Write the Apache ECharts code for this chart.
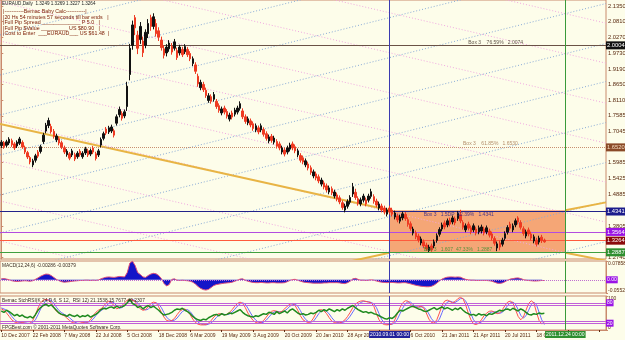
<!DOCTYPE html>
<html><head><meta charset="utf-8">
<script src="https://cdn.jsdelivr.net/npm/echarts@6/dist/echarts.min.js"></script>
<style>html,body{margin:0;padding:0;background:#fdfdea}#c{width:625px;height:340px}</style>
</head><body><div id="c"></div><script>
// ---------- DATA ----------
const dateLabels = ['10 Dec 2007','22 Feb 2008','7 May 2008','22 Jul 2008','5 Oct 2008','18 Dec 2008','6 Mar 2009','19 May 2009','3 Aug 2009','20 Oct 2009','20 Jan 2010','28 Apr 2010','','6 Oct 2010','21 Jan 2011','21 Apr 2011','20 Jul 2011','18 Oct 2011'];
const priceTicks = [2.1350,2.0810,2.0270,1.9730,1.9190,1.8650,1.8110,1.7585,1.7045,1.5985,1.5425,1.4885,1.3805,1.2740];
const macdTicks = [-0.05521, 0.07858];
const stochTicks = [0, 100];
// candles: [open, close, low, high]
const candles = [
[1.656,1.668,1.648,1.675],[1.666,1.652,1.645,1.672],[1.657,1.669,1.650,1.676],[1.665,1.678,1.658,1.685],[1.673,1.659,1.652,1.680],[1.662,1.648,1.641,1.668],[1.655,1.668,1.648,1.674],[1.664,1.679,1.658,1.686],[1.667,1.651,1.645,1.674],[1.650,1.634,1.627,1.656],
[1.632,1.617,1.610,1.638],[1.615,1.600,1.592,1.621],[1.590,1.604,1.582,1.611],[1.606,1.621,1.598,1.628],[1.634,1.620,1.613,1.641],[1.636,1.652,1.629,1.659],[1.670,1.692,1.662,1.700],[1.706,1.726,1.698,1.734],[1.725,1.742,1.716,1.752],[1.722,1.704,1.697,1.731],
[1.705,1.688,1.680,1.713],[1.676,1.689,1.668,1.697],[1.680,1.665,1.657,1.687],[1.666,1.651,1.644,1.673],[1.649,1.634,1.627,1.656],[1.625,1.637,1.618,1.644],[1.628,1.613,1.606,1.634],[1.624,1.638,1.617,1.645],[1.625,1.610,1.603,1.632],[1.618,1.630,1.611,1.637],
[1.637,1.625,1.618,1.644],[1.618,1.630,1.611,1.637],[1.631,1.645,1.624,1.652],[1.638,1.624,1.617,1.645],[1.627,1.639,1.620,1.646],[1.648,1.634,1.627,1.655],[1.628,1.612,1.605,1.635],[1.624,1.638,1.617,1.645],[1.658,1.677,1.650,1.684],[1.681,1.697,1.674,1.704],
[1.713,1.699,1.692,1.720],[1.703,1.717,1.696,1.724],[1.706,1.720,1.699,1.728],[1.707,1.692,1.684,1.714],[1.733,1.755,1.725,1.763],[1.762,1.780,1.753,1.790],[1.766,1.750,1.742,1.774],[1.758,1.772,1.750,1.780],[1.790,1.860,1.775,1.875],[1.900,1.990,1.880,2.005],
[2.000,2.070,1.985,2.085],[2.095,2.060,2.035,2.104],[2.035,1.990,1.970,2.050],[2.020,2.065,2.005,2.080],[2.015,1.975,1.960,2.030],[2.000,2.045,1.990,2.055],[2.040,2.075,2.025,2.090],[2.095,2.065,2.050,2.105],[2.065,2.098,2.055,2.110],[2.075,2.040,2.030,2.090],
[2.050,2.028,2.015,2.062],[2.018,1.992,1.982,2.030],[1.988,1.966,1.955,2.000],[1.974,1.994,1.962,2.004],[1.988,2.008,1.978,2.018],[1.997,1.977,1.968,2.008],[1.990,2.012,1.982,2.022],[1.982,1.958,1.950,1.992],[1.974,1.994,1.965,2.002],[1.986,1.968,1.960,1.995],
[1.978,1.996,1.970,2.004],[1.986,1.968,1.960,1.994],[1.972,1.954,1.946,1.980],[1.938,1.954,1.929,1.962],[1.933,1.911,1.902,1.942],[1.894,1.868,1.858,1.903],[1.855,1.873,1.846,1.882],[1.866,1.848,1.840,1.875],[1.846,1.828,1.820,1.855],[1.811,1.827,1.803,1.836],
[1.824,1.808,1.800,1.832],[1.815,1.831,1.807,1.840],[1.808,1.790,1.782,1.816],[1.793,1.777,1.769,1.801],[1.768,1.782,1.760,1.790],[1.785,1.771,1.763,1.793],[1.773,1.757,1.749,1.781],[1.747,1.761,1.739,1.769],[1.768,1.754,1.746,1.776],[1.764,1.778,1.756,1.786],
[1.771,1.785,1.763,1.793],[1.784,1.800,1.776,1.808],[1.775,1.755,1.747,1.784],[1.755,1.739,1.731,1.763],[1.734,1.748,1.726,1.756],[1.741,1.727,1.719,1.749],[1.731,1.715,1.707,1.739],[1.710,1.724,1.702,1.732],[1.717,1.703,1.695,1.725],[1.710,1.724,1.702,1.732],
[1.711,1.695,1.687,1.719],[1.697,1.681,1.673,1.705],[1.672,1.686,1.664,1.694],[1.688,1.674,1.666,1.696],[1.668,1.682,1.660,1.690],[1.670,1.654,1.646,1.678],[1.662,1.648,1.640,1.670],[1.634,1.648,1.626,1.656],[1.641,1.627,1.619,1.649],[1.634,1.648,1.626,1.656],
[1.644,1.658,1.636,1.666],[1.662,1.648,1.640,1.670],[1.652,1.638,1.630,1.660],[1.624,1.638,1.616,1.646],[1.622,1.606,1.598,1.630],[1.614,1.600,1.592,1.622],[1.590,1.604,1.582,1.612],[1.593,1.579,1.571,1.601],[1.580,1.564,1.556,1.588],[1.552,1.566,1.544,1.574],
[1.559,1.545,1.537,1.567],[1.549,1.535,1.527,1.557],[1.524,1.538,1.516,1.546],[1.528,1.514,1.506,1.536],[1.518,1.504,1.496,1.526],[1.497,1.511,1.489,1.519],[1.508,1.494,1.486,1.516],[1.483,1.497,1.475,1.505],[1.487,1.473,1.465,1.495],[1.477,1.463,1.455,1.485],
[1.460,1.444,1.436,1.468],[1.435,1.449,1.427,1.457],[1.448,1.464,1.440,1.472],[1.462,1.478,1.454,1.486],[1.490,1.515,1.480,1.528],[1.496,1.478,1.470,1.508],[1.474,1.458,1.450,1.482],[1.456,1.470,1.448,1.478],[1.469,1.483,1.461,1.491],[1.470,1.456,1.448,1.478],
[1.469,1.483,1.461,1.491],[1.482,1.498,1.474,1.508],[1.481,1.465,1.457,1.489],[1.466,1.452,1.444,1.474],[1.442,1.456,1.434,1.464],[1.449,1.435,1.427,1.457],[1.442,1.428,1.420,1.450],[1.421,1.435,1.413,1.443],[1.442,1.428,1.420,1.450],[1.435,1.421,1.413,1.443],
[1.411,1.425,1.403,1.433],[1.415,1.401,1.393,1.423],[1.397,1.411,1.389,1.419],[1.408,1.422,1.400,1.430],[1.420,1.406,1.398,1.428],[1.402,1.386,1.378,1.410],[1.388,1.372,1.364,1.396],[1.356,1.370,1.348,1.378],[1.357,1.343,1.335,1.365],[1.346,1.332,1.324,1.354],
[1.322,1.336,1.314,1.344],[1.326,1.312,1.304,1.334],[1.315,1.301,1.295,1.323],[1.296,1.308,1.291,1.316],[1.312,1.298,1.292,1.320],[1.312,1.326,1.304,1.334],[1.331,1.347,1.323,1.355],[1.352,1.368,1.344,1.376],[1.370,1.384,1.362,1.392],[1.391,1.377,1.369,1.399],
[1.384,1.398,1.376,1.406],[1.401,1.387,1.379,1.409],[1.394,1.408,1.386,1.416],[1.405,1.391,1.383,1.413],[1.406,1.424,1.398,1.432],[1.418,1.398,1.390,1.436],[1.392,1.376,1.368,1.400],[1.367,1.381,1.359,1.389],[1.387,1.373,1.365,1.395],[1.374,1.360,1.352,1.382],
[1.367,1.381,1.359,1.389],[1.370,1.356,1.348,1.378],[1.360,1.374,1.352,1.382],[1.363,1.377,1.355,1.385],[1.370,1.356,1.348,1.378],[1.360,1.374,1.352,1.382],[1.363,1.349,1.341,1.371],[1.353,1.339,1.331,1.361],[1.337,1.321,1.313,1.345],[1.305,1.319,1.294,1.327],
[1.322,1.308,1.297,1.330],[1.318,1.332,1.310,1.340],[1.338,1.354,1.330,1.362],[1.359,1.375,1.351,1.383],[1.387,1.373,1.365,1.395],[1.367,1.381,1.359,1.389],[1.384,1.398,1.376,1.406],[1.408,1.394,1.386,1.414],[1.392,1.376,1.368,1.400],[1.371,1.355,1.347,1.379],
[1.346,1.360,1.338,1.368],[1.367,1.353,1.345,1.375],[1.353,1.339,1.331,1.361],[1.329,1.343,1.321,1.351],[1.332,1.318,1.310,1.340],[1.325,1.339,1.317,1.347],[1.342,1.330,1.322,1.350],[1.332,1.326,1.323,1.337]
];
const macd = [
0.004,0.005,0.003,0.000,-0.004,-0.006,-0.007,-0.006,-0.005,-0.004,
-0.005,-0.006,-0.004,0.002,0.008,0.015,0.020,0.024,0.023,0.018,
0.010,0.002,-0.004,-0.008,-0.010,-0.009,-0.008,-0.006,-0.005,-0.004,
-0.003,-0.003,-0.002,-0.002,-0.003,-0.002,-0.003,-0.001,0.004,0.008,
0.011,0.012,0.011,0.010,0.012,0.014,0.013,0.012,0.030,0.070,
0.078,0.060,0.030,0.022,0.012,0.010,0.018,0.024,0.027,0.025,
0.018,0.005,-0.015,-0.026,-0.020,0.002,0.004,-0.002,-0.003,-0.002,
-0.003,-0.004,-0.006,-0.010,-0.018,-0.028,-0.036,-0.041,-0.043,-0.040,
-0.032,-0.024,-0.020,-0.018,-0.016,-0.014,-0.013,-0.012,-0.010,-0.006,
-0.002,0.003,0.004,-0.002,-0.006,-0.009,-0.011,-0.012,-0.012,-0.011,
-0.012,-0.013,-0.013,-0.012,-0.012,-0.013,-0.013,-0.013,-0.012,-0.008,
-0.003,0.001,0.002,-0.002,-0.006,-0.009,-0.011,-0.012,-0.013,-0.014,
-0.014,-0.014,-0.014,-0.013,-0.013,-0.012,-0.012,-0.012,-0.012,-0.013,
-0.015,-0.016,-0.012,-0.006,0.004,0.006,0.002,-0.002,-0.002,-0.003,
-0.002,0.000,-0.002,-0.005,-0.008,-0.010,-0.011,-0.012,-0.011,-0.011,
-0.012,-0.013,-0.013,-0.012,-0.012,-0.014,-0.017,-0.020,-0.023,-0.025,
-0.027,-0.028,-0.029,-0.029,-0.027,-0.022,-0.014,-0.005,0.003,0.008,
0.011,0.012,0.012,0.011,0.012,0.011,0.006,0.002,0.000,-0.002,
-0.002,-0.003,-0.003,-0.003,-0.003,-0.003,-0.004,-0.006,-0.010,-0.014,
-0.015,-0.013,-0.008,-0.002,0.003,0.005,0.007,0.008,0.005,0.001,
-0.002,-0.003,-0.004,-0.005,-0.005,-0.004,-0.003,-0.003];
const stochK = [
62,58,50,40,30,24,21,20,22,20, 19,20,28,45,65,80,88,90,88,80, 66,55,50,45,42,35,28,22,20,19,
20,22,24,23,30,42,52,58,62,70, 80,85,82,70,62,66,72,80,88,90, 88,85,70,62,58,60,68,78,82,80,
68,52,38,28,26,28,34,45,55,60, 62,55,45,32,22,17,15,15,16,20, 28,38,45,48,47,45,46,52,60,70,
78,82,78,66,50,38,28,22,20,22, 28,38,48,55,57,55,52,55,62,70, 76,78,72,58,42,30,25,22,24,35,
50,58,60,56,48,36,26,22,20,21, 24,30,40,52,66,76,82,85,86,84, 82,80,70,48,30,20,16,15,16,18,
30,48,66,80,86,85,76,68,66,68, 70,65,50,32,22,20,30,50,72,85, 88,84,80,84,92,96,92,74,50,30,
18,16,20,30,42,50,55,56,52,48, 50,60,72,82,85,80,60,40,30,38, 58,78,86,80,52,28,18,21];
const stochD = [
65,62,58,50,40,31,25,22,21,21, 20,19,22,30,45,62,77,86,89,87, 79,67,57,51,46,42,36,29,23,20,
19,20,22,23,25,32,42,51,57,62, 70,79,83,80,71,64,66,72,80,87, 89,87,80,70,62,59,61,69,77,80,
76,66,51,38,30,27,29,35,45,54, 59,60,54,44,32,23,18,16,15,17, 21,28,37,44,47,46,45,47,53,61,
70,77,80,76,64,50,38,29,23,21, 23,29,38,47,53,55,54,53,56,62, 70,75,76,70,57,42,31,25,23,26,
36,48,56,58,55,47,36,27,22,21, 22,25,31,41,53,65,75,81,84,84, 83,81,77,66,48,31,21,17,16,17,
21,32,48,64,77,83,82,75,69,67, 68,67,60,47,33,24,23,32,51,70, 82,85,82,81,86,92,93,85,70,48,
30,21,19,23,31,42,49,53,54,51, 49,52,61,72,80,82,76,60,43,35, 42,58,75,82,74,52,30,16];
const stochRsi = [
56,52,58,54,48,42,46,40,44,38, 36,40,35,45,58,66,72,76,70,74, 66,58,50,46,44,40,46,42,40,44,
38,42,40,44,38,42,46,52,60,64, 62,66,68,64,70,66,68,72,80,90, 78,74,66,70,62,68,72,66,70,64,
58,50,44,46,48,52,58,62,60,64, 58,54,48,40,34,30,28,32,30,36, 40,44,46,42,48,44,46,50,48,52,
56,60,52,46,42,40,38,42,40,44, 48,46,52,50,46,54,48,52,56,50, 58,62,56,50,46,48,44,46,50,48,
52,58,54,60,56,62,58,54,60,56, 62,58,64,68,72,66,60,56,52,54, 50,52,48,46,42,38,34,32,36,34,
40,50,58,56,60,64,68,70,66,62, 60,56,54,58,62,66,60,64,68,62, 66,62,58,64,60,66,58,52,48,44,
46,42,48,44,46,42,48,46,50,54, 58,56,60,62,58,64,60,56,62,58, 52,46,44,48,46,50,48,49];
const levelPrices = [2.0004, 1.6520, 1.4341, 1.3564, 1.3264, 1.2887];
const boxPrices = [1.4341, 1.2887];
const vLineSlots = [148, 215];
const vLineTexts = ['2010.09.01 00:00', '2011.12.24 00:00'];
const pinkStarts = [2.5603, 2.4231, 2.2859, 2.1487, 2.0150, 1.8778, 1.7406, 1.6034, 1.4662, 1.3290];
const pinkSlope = -0.002096;
const blueStarts = [2.1728, 2.0356, 1.8984, 1.7612, 1.6240, 1.4868, 1.3564, 1.2158, 1.0786, 0.9448, 0.8076];
const blueSlope = 0.002249;
const goldFrom = [[-0.5, 1.730], [148, 1.2887], [215, 1.4341], [215, 1.2887]];
const goldTo   = [[148, 1.4341], [110, 1.2135], [230.5, 1.4613], [230.5, 1.2615]];
const boxNotes = [
  {slot: 178, price: 2.0004, text: 'Box 3    76.59%   2.0074'},
  {slot: 176, price: 1.6520, text: 'Box 3    61.85%   1.6530'},
  {slot: 161, price: 1.4341, text: 'Box 3   1.5DP  52.39%   1.4341'},
  {slot: 161, price: 1.2887, text: 'Box 3   1.607  47.33%   1.2887'}
];
const macdLevel = 0;
const stochLevels = [80, 72, 26, 20];
const SLOTS = 231;

// ---------- STYLES ----------
const FONT = "'Liberation Sans',Arial,sans-serif";
const BG = '#fdfdea', BORDER = '#c98a6c', TXT = '#5a2a10';
const levelLine = [['#6a5246','solid'],['#c89070','dotted'],['#22228a','solid'],['#b24ce0','solid'],['#ff5a3c','solid'],['#3f9f3f','solid']];
const levelTag = [['#111111','#ffffff'],['#8a4a28','#f5dcc0'],['#1c1c8c','#ffffff'],['#9a14e6','#ffffff'],['#8b0a0a','#ffffff'],['#2f8f2f','#ffffff']];
const noteColor = ['#3a2a20','#a0704a','#1c1c8c','#2f8f2f'];
const vColors = ['#3b3bb0', '#3a9a3a'];
const vTagBg = ['#23239a', '#2f8f2f'];

const cats = Array.from({length: SLOTS}, (_, i) => String(i));
const chart = echarts.init(document.getElementById('c'), null, {renderer: 'canvas', devicePixelRatio: 1});

const gridBase = {left: 0, right: 19, show: true, borderColor: BORDER, borderWidth: 1, backgroundColor: 'transparent', containLabel: false, outerBoundsMode: 'none'};
const hiddenCat = (g) => ({type: 'category', gridIndex: g, data: cats, boundaryGap: true, axisLine: {show: false}, axisTick: {show: false}, axisLabel: {show: false}, splitLine: {show: false}});
const yAx = (g, min, max, ticks, fmt, fs, edgeAlign) => ({
  type: 'value', gridIndex: g, position: 'right', min, max, scale: true,
  axisLine: {show: true, lineStyle: {color: BORDER}},
  axisTick: {show: true, length: 2, inside: false, customValues: ticks, lineStyle: {color: BORDER}},
  axisLabel: Object.assign({show: true, customValues: ticks, formatter: fmt, fontSize: fs, fontFamily: FONT, color: TXT, margin: 2},
    edgeAlign ? {verticalAlignMinLabel: 'bottom', verticalAlignMaxLabel: 'top'} : {}),
  splitLine: {show: false}
});

function vMarks(withLabel) {
  return vLineSlots.map((s, i) => ({
    xAxis: s,
    lineStyle: {color: vColors[i], width: 1, type: 'solid'},
    label: withLabel ? {show: true, position: 'start', formatter: vLineTexts[i], backgroundColor: vTagBg[i],
      color: '#ffffff', fontSize: 5, fontFamily: FONT, padding: [1, 1], distance: 1} : {show: false}
  }));
}

const series = [];
series.push({type: 'line', xAxisIndex: 0, yAxisIndex: 0, data: [], z: 1, silent: true,
  markArea: {silent: true, itemStyle: {color: '#f5a676'}, data: [[{xAxis: vLineSlots[0], yAxis: boxPrices[0]}, {xAxis: vLineSlots[1], yAxis: boxPrices[1]}]]}});
pinkStarts.forEach(p => series.push({type: 'line', xAxisIndex: 1, yAxisIndex: 0, z: 2, silent: true, symbol: 'none',
  lineStyle: {color: '#f0a6e0', width: 1, type: [1, 2]}, data: [[-0.5, p], [SLOTS - 0.5, p + pinkSlope * SLOTS]]}));
blueStarts.forEach(p => series.push({type: 'line', xAxisIndex: 1, yAxisIndex: 0, z: 2, silent: true, symbol: 'none',
  lineStyle: {color: '#88aad6', width: 1, type: [1, 2]}, data: [[-0.5, p], [SLOTS - 0.5, p + blueSlope * SLOTS]]}));
goldFrom.forEach((a, i) => series.push({type: 'line', xAxisIndex: 1, yAxisIndex: 0, z: 3, silent: true, symbol: 'none',
  lineStyle: {color: '#e8b444', width: 2}, data: [a, goldTo[i]]}));
series.push({type: 'candlestick', xAxisIndex: 0, yAxisIndex: 0, z: 5, data: candles, barWidth: 2,
  itemStyle: {color: '#111111', color0: '#ee3a22', borderColor: '#111111', borderColor0: '#ee3a22', borderWidth: 1},
  markLine: {silent: true, symbol: 'none', animation: false, z: 4,
    data: levelPrices.map((p, i) => ({yAxis: p, lineStyle: {color: levelLine[i][0], type: levelLine[i][1], width: 1},
      label: {show: true, position: 'end', formatter: p.toFixed(4), backgroundColor: levelTag[i][0], color: levelTag[i][1],
        fontSize: 5.8, fontFamily: FONT, padding: [1, 1], distance: 0}})).concat(vMarks(false))}});
series.push({type: 'scatter', xAxisIndex: 1, yAxisIndex: 0, z: 6, silent: true, symbolSize: 0,
  data: boxNotes.map((n, i) => ({value: [n.slot, n.price], label: {show: true, position: 'right', distance: 0, formatter: n.text,
    color: noteColor[i], fontSize: 5, fontFamily: FONT, offset: [0, i === 2 ? 4 : -3]}}))});
series.push({type: 'line', xAxisIndex: 2, yAxisIndex: 1, z: 3, symbol: 'none', data: macd,
  lineStyle: {color: '#e0507a', width: 1}, areaStyle: {color: '#1414c8', opacity: 1},
  markLine: {silent: true, symbol: 'none', animation: false,
    data: [{yAxis: macdLevel, lineStyle: {color: '#c070d0', type: 'dotted', width: 1},
      label: {show: true, position: 'end', formatter: '0.00', backgroundColor: '#9a14e6', color: '#fff', fontSize: 5, fontFamily: FONT, padding: [1, 1], distance: 0}}].concat(vMarks(false))}});
series.push({type: 'line', xAxisIndex: 3, yAxisIndex: 2, z: 3, symbol: 'none', data: stochD, lineStyle: {color: '#6a6aff', width: 1}});
series.push({type: 'line', xAxisIndex: 3, yAxisIndex: 2, z: 4, symbol: 'none', data: stochK, lineStyle: {color: '#ff5050', width: 1}});
series.push({type: 'line', xAxisIndex: 3, yAxisIndex: 2, z: 5, symbol: 'none', data: stochRsi, lineStyle: {color: '#1f8a1f', width: 1.5},
  markLine: {silent: true, symbol: 'none', animation: false,
    data: stochLevels.map((v, i) => ({yAxis: v, lineStyle: {color: '#c060d8', width: 1, type: 'solid'},
      label: (i === 0 || i === 3) ? {show: true, position: 'end', formatter: String(v), backgroundColor: '#9a14e6', color: '#fff', fontSize: 5, fontFamily: FONT, padding: [1, 1], distance: 0} : {show: false}}))
      .concat(vMarks(true))}});

const option = {
  animation: false,
  backgroundColor: BG,
  grid: [
    Object.assign({}, gridBase, {top: 0, height: 259}),
    Object.assign({}, gridBase, {top: 261, height: 32}),
    Object.assign({}, gridBase, {top: 296, height: 34})
  ],
  xAxis: [
    hiddenCat(0),
    {type: 'value', gridIndex: 0, min: -0.5, max: SLOTS - 0.5, show: false},
    hiddenCat(1),
    {type: 'category', gridIndex: 2, data: cats, boundaryGap: true,
      axisLine: {show: true, lineStyle: {color: BORDER}},
      axisTick: {show: true, interval: 11, alignWithLabel: true, length: 2, lineStyle: {color: TXT}},
      axisLabel: {show: true, interval: 11, showMinLabel: true, align: 'left', margin: 3, fontSize: 5, fontFamily: FONT, color: TXT,
        formatter: (v, idx) => (idx % 12 === 0 ? (dateLabels[idx / 12] || '') : '')},
      splitLine: {show: false}}
  ],
  yAxis: [
    yAx(0, 1.2671, 2.1556, priceTicks, v => v.toFixed(4), 5.8, false),
    yAx(1, macdTicks[0], macdTicks[1], macdTicks, v => v.toFixed(5), 5, true),
    yAx(2, 0, 100, stochTicks, v => String(Math.round(v)), 5, true)
  ],
  graphic: [
    {type: 'text', x: 2, y: 1, z: 100, style: {text: 'EURAUD,Daily  1.3249 1.3269 1.3227 1.3264', font: '4.6px ' + FONT, fill: '#222'}},
    {type: 'text', x: 3, y: 9, z: 100, style: {text: [
      '|-----------Bemac Baby Calc-----------|',
      '|20 Hs 54 minutes 57 seconds till bar ends   |',
      '|Full Pip Spread _____________ P 5.0   |',
      '|Full Pip $Value _________ US $80.90   |',
      '|Cost to Enter  ___EURAUD___ US $61.48  |'].join('\n'), font: '5.3px ' + FONT, lineHeight: 5.5, fill: '#7a1a00'}},
    {type: 'text', x: 2, y: 263, z: 100, style: {text: 'MACD(12,24,6) -0.00286 -0.00379', font: '4.8px ' + FONT, fill: '#3a2a20'}},
    {type: 'text', x: 2, y: 298, z: 100, style: {text: 'Bemac StchRSI(K 24,D 6, S 12,  RSI 12) 21.1538 15.7677 49.2307', font: '4.8px ' + FONT, fill: '#3a2a20'}},
    {type: 'text', x: 2, y: 325, z: 100, style: {text: 'FPGBest.com \u00a9 2001-2011 MetaQuotes Software Corp.', font: '4.8px ' + FONT, fill: '#3a2a20'}}
  ],
  series
};
chart.setOption(option);
</script></body></html>
